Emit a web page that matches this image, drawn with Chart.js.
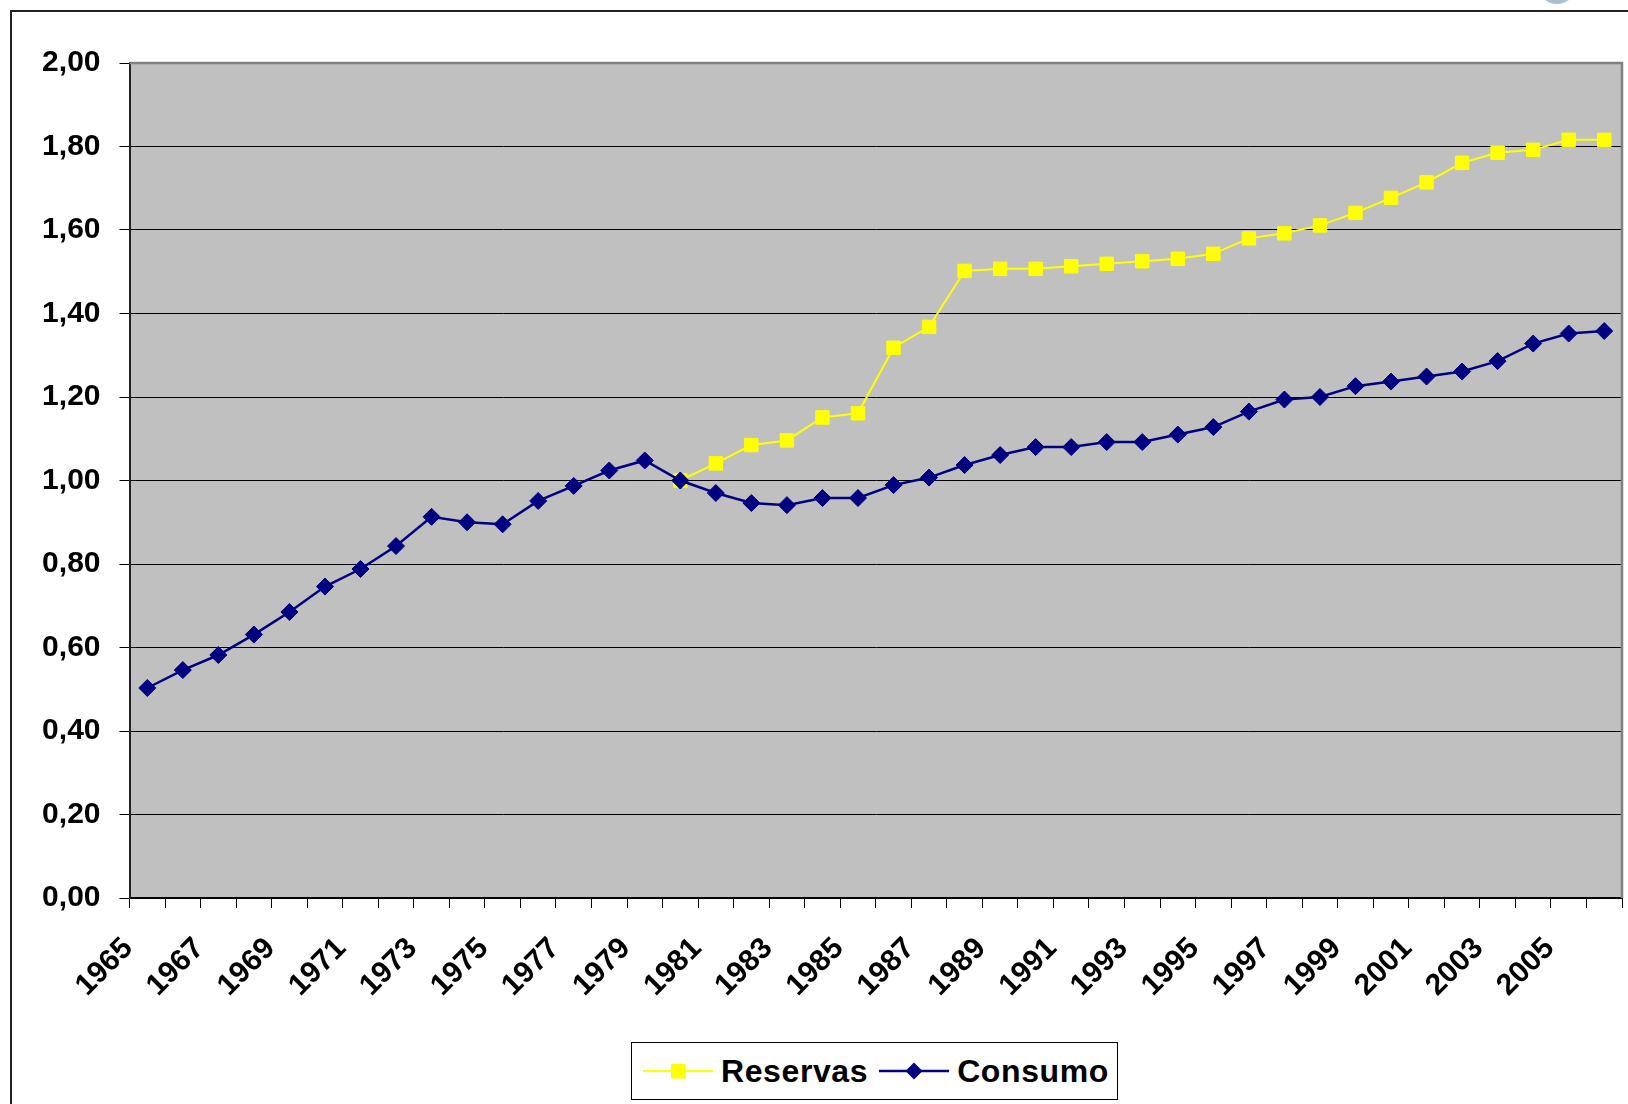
<!DOCTYPE html>
<html>
<head>
<meta charset="utf-8">
<title>Reservas y Consumo</title>
<script src="https://cdn.jsdelivr.net/npm/chart.js@4/dist/chart.umd.min.js"></script>
<style>
  html, body { margin: 0; padding: 0; background: #fff; overflow: hidden; }
  #wrap { position: relative; width: 1628px; height: 1104px; }
  #frame {
    position: absolute; left: 10px; top: 10px; width: 1700px; height: 1200px;
    border-left: 2px solid #222; border-top: 2px solid #222;
  }
  #badge {
    position: absolute; left: 1537px; top: -36px; width: 40px; height: 40px;
    border-radius: 50%; background: radial-gradient(circle at 50% 70%, #9fb4c8, #c9d6e2);
  }
  #chart { position: absolute; left: 0; top: 0; }
  #legend {
    position: absolute; left: 631px; top: 1042px; width: 485px; height: 56px;
    border: 1px solid #000; background: #fff;
    display: flex; align-items: center;
    font: bold 32px "Liberation Sans", Arial, sans-serif; color: #000;
    letter-spacing: 0.6px;
  }
  #legend .item { display: flex; align-items: center; margin-left: 11px; }
  #legend svg { display: block; }
</style>
</head>
<body>
<div id="wrap">
  <div id="badge"></div>
  <div id="frame"></div>
  <canvas id="chart" width="1628" height="1104"></canvas>
  <div id="legend"></div>
</div>
<script>
const years = ["1965","1966","1967","1968","1969","1970","1971","1972","1973","1974",
  "1975","1976","1977","1978","1979","1980","1981","1982","1983","1984",
  "1985","1986","1987","1988","1989","1990","1991","1992","1993","1994",
  "1995","1996","1997","1998","1999","2000","2001","2002","2003","2004",
  "2005","2006"];

// índice 1980 = 1,00
const reservas = [null,null,null,null,null,null,null,null,null,null,
  null,null,null,null,null,1.000,1.041,1.085,1.096,1.151,
  1.161,1.318,1.368,1.502,1.507,1.507,1.513,1.519,1.525,1.531,
  1.543,1.580,1.592,1.611,1.641,1.677,1.714,1.761,1.785,1.792,
  1.816,1.816];

const consumo = [0.503,0.546,0.582,0.631,0.685,0.746,0.788,0.843,0.913,0.900,
  0.895,0.951,0.987,1.024,1.048,1.000,0.970,0.946,0.941,0.958,
  0.958,0.989,1.007,1.037,1.061,1.080,1.080,1.092,1.092,1.110,
  1.128,1.165,1.194,1.200,1.226,1.237,1.249,1.261,1.286,1.328,
  1.352,1.358];

const yMin = 0, yMax = 2, yStep = 0.2;

const series = [
  { label: "Reservas", data: reservas, color: "#FFFF00", style: "rect", radius: 9.5, width: 2, order: 1 },
  { label: "Consumo", data: consumo, color: "#000080", style: "rectRot", radius: 8.5, width: 2.5, order: 0 },
];

Chart.defaults.font.family = '"Liberation Sans", Arial, sans-serif';
Chart.defaults.font.weight = "bold";
Chart.defaults.color = "#000";

// fondo gris del área de trazado y su borde
const plotArea = {
  id: "plotArea",
  beforeDraw(chart) {
    const { ctx, chartArea: a } = chart;
    ctx.save();
    ctx.fillStyle = "#C0C0C0";
    ctx.fillRect(a.left, a.top, a.right - a.left, a.bottom - a.top);
    ctx.restore();
  },
  beforeDatasetsDraw(chart) {
    const { ctx, chartArea: a } = chart;
    ctx.save();
    ctx.strokeStyle = "#808080";
    ctx.lineWidth = 2.5;
    ctx.beginPath();
    ctx.moveTo(a.left, a.top);
    ctx.lineTo(a.right, a.top);
    ctx.lineTo(a.right, a.bottom);
    ctx.stroke();
    ctx.restore();
  }
};

new Chart(document.getElementById("chart"), {
  type: "line",
  data: {
    labels: years,
    datasets: series.map(s => ({
      label: s.label,
      data: s.data,
      borderColor: s.color,
      backgroundColor: s.color,
      borderWidth: s.width,
      pointStyle: s.style,
      pointRadius: s.radius,
      pointBorderWidth: 1,
      pointBorderColor: s.color,
      pointBackgroundColor: s.color,
      tension: 0,
      spanGaps: false,
      order: s.order,
    }))
  },
  options: {
    responsive: false,
    animation: false,
    devicePixelRatio: 1,
    layout: { autoPadding: false, padding: { top: 63, right: 6, left: 0, bottom: 0 } },
    plugins: {
      legend: { display: false },
      tooltip: { enabled: false },
    },
    scales: {
      x: {
        offset: true,
        afterFit(scale) {
          scale.height = 206;
          scale.paddingRight = 0;
          scale.paddingLeft = 0;
        },
        grid: { drawOnChartArea: false, offset: true, tickLength: 10, color: "#000", lineWidth: 1 },
        border: { color: "#000", width: 2 },
        ticks: {
          autoSkip: false,
          minRotation: 45,
          maxRotation: 45,
          padding: 23,
          labelOffset: -19,
          font: { size: 30, weight: "bold" },
          callback(value, index) { return index % 2 === 0 ? years[index] : ""; },
        },
      },
      y: {
        min: yMin,
        max: yMax,
        afterFit(scale) { scale.width = 129.5; },
        grid: { color: "#000", lineWidth: 1, tickLength: 10, tickColor: "#000" },
        border: { color: "#222", width: 2 },
        ticks: {
          stepSize: yStep,
          padding: 19,
          font: { size: 30, weight: "bold" },
          callback: v => v.toFixed(2).replace(".", ","),
        },
      },
    },
  },
  plugins: [plotArea],
});

// leyenda con línea y marcador
const legend = document.getElementById("legend");
series.forEach(s => {
  const item = document.createElement("div");
  item.className = "item";
  const marker = s.style === "rect"
    ? `<rect x="28" y="3" width="14.5" height="14.5" fill="${s.color}"/>`
    : `<polygon points="35,1.5 43.5,10 35,18.5 26.5,10" fill="${s.color}"/>`;
  item.innerHTML = `<svg width="70" height="20"><line x1="0" y1="10" x2="70" y2="10" stroke="${s.color}" stroke-width="${s.width}"/>${marker}</svg>` +
    `<span style="margin-left:8px">${s.label}</span>`;
  legend.appendChild(item);
});
</script>
</body>
</html>
